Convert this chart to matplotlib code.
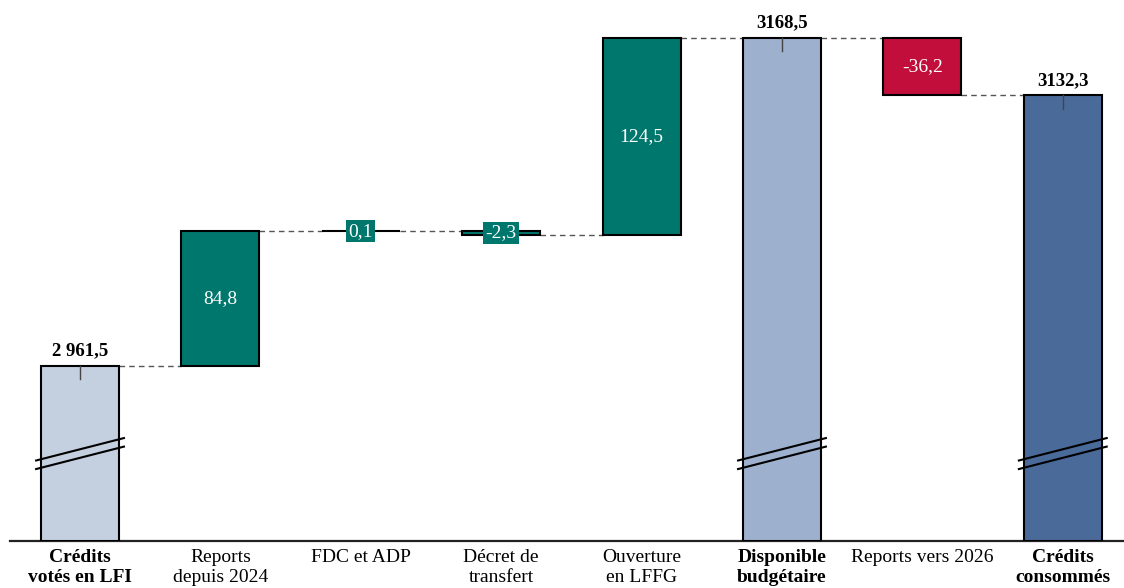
import matplotlib
matplotlib.use("Agg")
import matplotlib.pyplot as plt

# ---- data ----
categories = ["Crédits\nvotés en LFI", "Reports\ndepuis 2024", "FDC et ADP",
              "Décret de\ntransfert", "Ouverture\nen LFFG", "Disponible\nbudgétaire",
              "Reports vers 2026", "Crédits\nconsommés"]
values = [2961.5, 84.8, 0.1, -2.3, 124.5, 3168.5, -36.2, 3132.3]
is_total = [True, False, False, False, False, True, False, True]
value_labels = ["2 961,5", "84,8", "0,1", "-2,3", "124,5", "3168,5", "-36,2", "3132,3"]
bar_colors = ["#C4CFE0", "#00776D", "#00776D", "#00776D", "#00776D",
              "#9DB0CE", "#C20E3A", "#4A6A9A"]

plt.rcParams['font.family'] = ['Liberation Serif', 'DejaVu Serif']

fig = plt.figure(figsize=(11.24, 5.88), dpi=100)
ax = fig.add_axes([0.0, 47 / 588, 1.0, 541 / 588])
ymin, ymax = 2850.7, 3192.5
ax.set_ylim(ymin, ymax)
ax.set_xlim(-0.57, 7.436)

width = 0.556
level = 0.0
tops = []
for i, (v, tot) in enumerate(zip(values, is_total)):
    if tot:
        ax.bar(i, v - ymin, bottom=ymin, width=width, color=bar_colors[i],
               edgecolor="black", linewidth=1.5, zorder=3)
        level = v
        tops.append((v, v))
        ax.plot([i, i], [v, v - 8.5], color="#444444", lw=1.0, zorder=4)
        ax.text(i, v + 4, value_labels[i], ha="center", va="bottom",
                fontsize=13.5, fontweight="bold", color="black", zorder=5)
        for off in (0.0, -5.4):
            ax.plot([i - 0.32, i + 0.32], [2901.4 + off, 2915.9 + off],
                    color="black", lw=1.5, zorder=4, solid_capstyle="butt")
    else:
        start = level
        end = level + v
        ax.bar(i, end - start, bottom=start, width=width, color=bar_colors[i],
               edgecolor="black", linewidth=1.5, zorder=3)
        mid = (start + end) / 2
        if abs(v) > 10:
            ax.text(i, mid, value_labels[i], ha="center", va="center",
                    fontsize=14, color="white", zorder=5)
        else:
            ax.text(i, mid, value_labels[i], ha="center", va="center",
                    fontsize=14, color="white", zorder=5,
                    bbox=dict(boxstyle="square,pad=0.12", fc=bar_colors[i], ec="none"))
        level = end
        tops.append((start, end))

# dashed connectors
for i in range(len(values) - 1):
    lvl = tops[i][1]
    ax.plot([i + width / 2, i + 1 - width / 2], [lvl, lvl], color="#555555",
            lw=1.0, ls=(0, (4, 3)), zorder=2)

for s in ["top", "right", "left"]:
    ax.spines[s].set_visible(False)
ax.spines["bottom"].set_color("#222222")
ax.spines["bottom"].set_linewidth(1.6)
ax.spines["bottom"].set_bounds(-0.5, 7.436)
ax.set_yticks([])
ax.set_xticks(range(len(categories)))
ax.set_xticklabels(categories, fontsize=14, linespacing=1.18, va="top")
ax.tick_params(axis="x", length=0, pad=6)
for lbl, tot in zip(ax.get_xticklabels(), is_total):
    if tot:
        lbl.set_fontweight("bold")

fig.savefig("out.png", dpi=100)
